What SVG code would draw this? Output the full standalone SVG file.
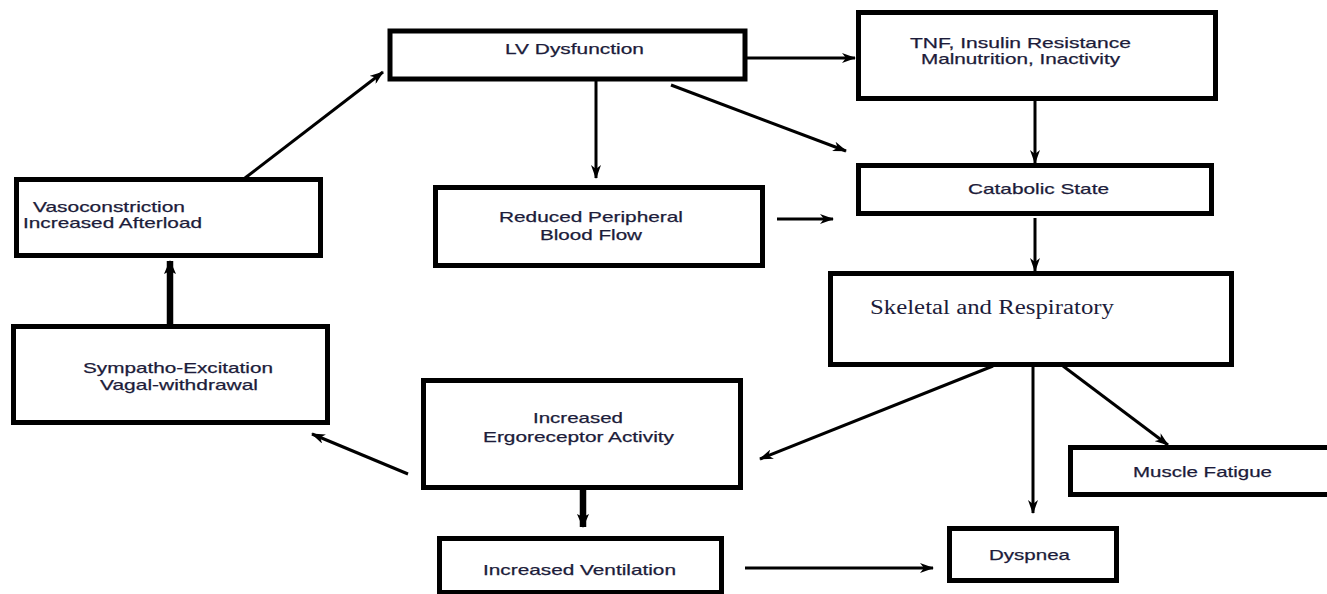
<svg xmlns="http://www.w3.org/2000/svg" width="1327" height="594" viewBox="0 0 1327 594">
<style>
.box{fill:#fff;stroke:#000;stroke-width:5}
.t{font-family:"Liberation Sans",Arial,sans-serif;font-size:15px;fill:#1c1c3a;stroke:#1c1c3a;stroke-width:0.25}
.s{font-family:"Liberation Serif","Times New Roman",serif;font-size:20px;fill:#1c1c3a}
.c{stroke:#000;stroke-width:3;fill:none;marker-end:url(#ah)}
.ck{stroke:#000;stroke-width:6.5;fill:none;marker-end:url(#ahk)}
</style>
<defs>
<marker id="ah" markerUnits="userSpaceOnUse" viewBox="0 0 14 10" refX="13" refY="5" markerWidth="14" markerHeight="10" orient="auto">
<path d="M0,0 L14,5 L0,10 L4,5 z" fill="#000"/>
</marker>
<marker id="ahk" markerUnits="userSpaceOnUse" viewBox="0 0 14 12" refX="13" refY="6" markerWidth="14" markerHeight="12" orient="auto">
<path d="M0,0 L14,6 L0,12 L3,6 z" fill="#000"/>
</marker>
</defs>
<rect width="1327" height="594" fill="#fff"/>
<g id="connectors">
<line class="c" x1="747" y1="58" x2="855" y2="58"/>
<line class="c" x1="1035" y1="100" x2="1035" y2="163"/>
<line class="c" x1="1035" y1="218" x2="1035" y2="271"/>
<line class="c" x1="596" y1="80" x2="596" y2="178"/>
<line class="c" x1="671" y1="85" x2="846" y2="151"/>
<line class="c" x1="777" y1="219" x2="833" y2="219"/>
<line class="c" x1="245" y1="178" x2="383" y2="72"/>
<line class="ck" x1="170" y1="324" x2="170" y2="261"/>
<line class="c" x1="993" y1="366" x2="760" y2="459"/>
<line class="c" x1="1033" y1="366" x2="1033" y2="513"/>
<line class="c" x1="1063" y1="366" x2="1168" y2="445"/>
<line class="c" x1="408" y1="474" x2="312" y2="434"/>
<line class="ck" x1="583" y1="489" x2="583" y2="527"/>
<line class="c" x1="745" y1="568" x2="933" y2="568"/>
</g>
<g id="lv">
<rect class="box" x="390" y="31" width="355" height="48"/>
<text class="t" x="574.5" y="54" text-anchor="middle" textLength="139" lengthAdjust="spacingAndGlyphs">LV Dysfunction</text>
</g>
<g id="tnf">
<rect class="box" x="858.5" y="12.5" width="357" height="86"/>
<text class="t" x="1020.5" y="47.5" text-anchor="middle" textLength="221" lengthAdjust="spacingAndGlyphs">TNF, Insulin Resistance</text>
<text class="t" x="1020.5" y="64" text-anchor="middle" textLength="199" lengthAdjust="spacingAndGlyphs">Malnutrition, Inactivity</text>
</g>
<g id="catabolic">
<rect class="box" x="858.5" y="165.5" width="353" height="48"/>
<text class="t" x="1038.5" y="194" text-anchor="middle" textLength="141" lengthAdjust="spacingAndGlyphs">Catabolic State</text>
</g>
<g id="reduced">
<rect class="box" x="435.5" y="187.5" width="327" height="78"/>
<text class="t" x="591" y="222" text-anchor="middle" textLength="184" lengthAdjust="spacingAndGlyphs">Reduced Peripheral</text>
<text class="t" x="591" y="240" text-anchor="middle" textLength="102" lengthAdjust="spacingAndGlyphs">Blood Flow</text>
</g>
<g id="vaso">
<rect class="box" x="16.5" y="179.5" width="304" height="76"/>
<text class="t" x="33" y="212" textLength="152" lengthAdjust="spacingAndGlyphs">Vasoconstriction</text>
<text class="t" x="23" y="228" textLength="179" lengthAdjust="spacingAndGlyphs">Increased Afterload</text>
</g>
<g id="sympatho">
<rect class="box" x="13.5" y="326.5" width="314" height="96"/>
<text class="t" x="178" y="373" text-anchor="middle" textLength="190" lengthAdjust="spacingAndGlyphs">Sympatho-Excitation</text>
<text class="t" x="179" y="390" text-anchor="middle" textLength="158" lengthAdjust="spacingAndGlyphs">Vagal-withdrawal</text>
</g>
<g id="skeletal">
<rect class="box" x="830.5" y="273.5" width="401" height="91"/>
<text class="s" x="870" y="314" textLength="244" lengthAdjust="spacingAndGlyphs">Skeletal and Respiratory</text>
</g>
<g id="ergo">
<rect class="box" x="423.5" y="380.5" width="317" height="107"/>
<text class="t" x="578" y="423" text-anchor="middle" textLength="90" lengthAdjust="spacingAndGlyphs">Increased</text>
<text class="t" x="578.5" y="442" text-anchor="middle" textLength="191" lengthAdjust="spacingAndGlyphs">Ergoreceptor Activity</text>
</g>
<g id="ventilation">
<rect class="box" x="439.5" y="538.5" width="282" height="54"/>
<text class="t" x="579.5" y="575" text-anchor="middle" textLength="193" lengthAdjust="spacingAndGlyphs">Increased Ventilation</text>
</g>
<g id="fatigue">
<rect class="box" x="1070.5" y="447.5" width="280" height="47"/>
<text class="t" x="1202.5" y="477" text-anchor="middle" textLength="139" lengthAdjust="spacingAndGlyphs">Muscle Fatigue</text>
</g>
<g id="dyspnea">
<rect class="box" x="949.5" y="528.5" width="167" height="52"/>
<text class="t" x="1029.5" y="560" text-anchor="middle" textLength="81" lengthAdjust="spacingAndGlyphs">Dyspnea</text>
</g>
</svg>
